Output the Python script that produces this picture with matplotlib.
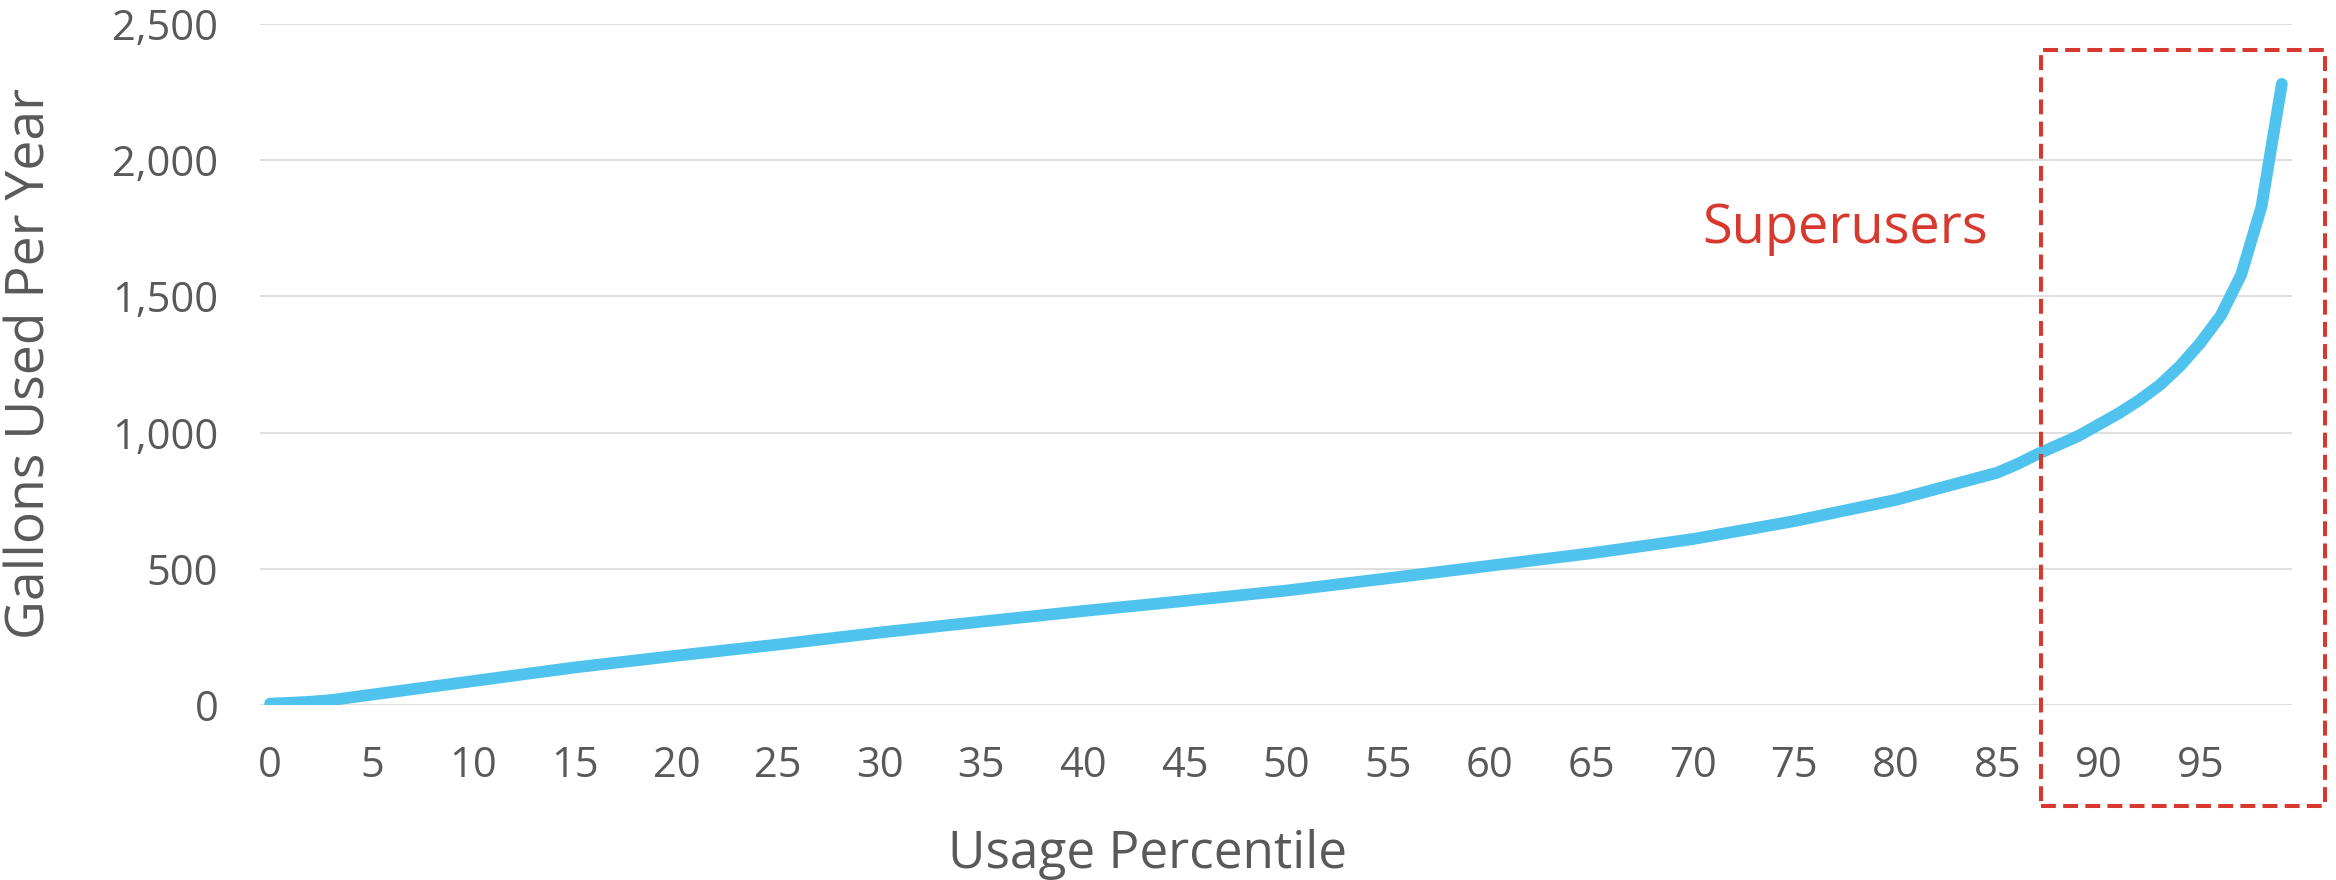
import numpy as np
import matplotlib.pyplot as plt
from matplotlib.patches import Rectangle


# values
percentile = [0, 1, 2, 3, 4, 5, 10, 15, 20, 25, 30, 35, 40, 45, 50, 55, 60, 65,
              70, 75, 80, 85, 86, 87, 88, 89, 90, 91, 92, 93, 94, 95, 96, 97, 98, 99]
gallons = [5, 8, 12, 18, 28, 38, 88, 138, 181, 222, 266, 306, 345, 382, 420, 465,
           511, 557, 609, 675, 753, 853, 885, 922, 955, 988, 1030, 1072, 1120, 1175,
           1245, 1330, 1430, 1580, 1830, 2280]

x_ticks = list(range(0, 100, 5))
y_ticks = [0, 500, 1000, 1500, 2000, 2500]
y_tick_labels = ["0", "500", "1,000", "1,500", "2,000", "2,500"]

TEXT_GRAY = "#595959"
LINE_BLUE = "#4FC3EE"
RED = "#D8392E"

plt.rcParams["font.family"] = ["Open Sans", "DejaVu Sans"]

fig = plt.figure(figsize=(23.36, 8.8), dpi=100)
ax = fig.add_axes([260 / 2336, 1 - 705 / 880, 2032 / 2336, 681 / 880])

ax.plot(percentile, gallons, color=LINE_BLUE, linewidth=8.5,
        solid_capstyle="round", solid_joinstyle="round", zorder=3)

ax.set_xlim(-0.5, 99.5)
ax.set_ylim(0, 2500)

ax.set_xticks(x_ticks)
ax.set_yticks(y_ticks)
ax.set_yticklabels(y_tick_labels)
ax.tick_params(axis="both", length=0, labelsize=30, labelcolor=TEXT_GRAY)
ax.tick_params(axis="y", pad=30)
ax.tick_params(axis="x", pad=29)

ax.grid(axis="y", color="#D9D9D9", linewidth=1.2, zorder=0)
ax.grid(axis="x", visible=False)
for spine in ax.spines.values():
    spine.set_visible(False)

ax.set_xlabel("Usage Percentile", fontsize=37, color=TEXT_GRAY)
ax.xaxis.set_label_coords(0.437, -0.2394)
ax.xaxis.label.set_verticalalignment("baseline")

ax.set_ylabel("Gallons Used Per Year", fontsize=38.5, color=TEXT_GRAY)
ax.yaxis.set_label_coords(-0.1127, 0.502)
ax.yaxis.label.set_verticalalignment("center")

# superusers callout
ax.text(70.5, 1696, "Superusers", fontsize=39, color=RED, ha="left", va="baseline")
box = Rectangle((87.15, -371), 101.13 - 87.15, 2405 + 371, fill=False,
                edgecolor=RED, linewidth=2.9, linestyle=(0, (3.7, 1.8)),
                clip_on=False, zorder=4)
ax.add_patch(box)

fig.savefig("out.png", dpi=100, facecolor="white")
